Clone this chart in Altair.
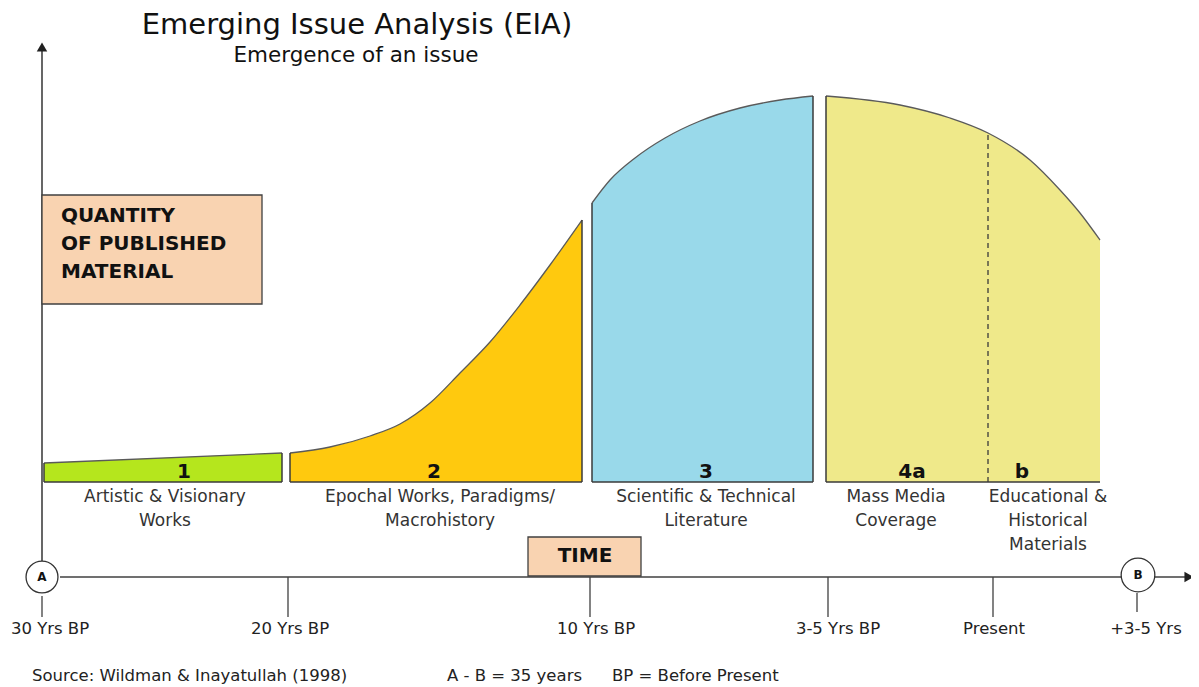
import altair as alt
import pandas as pd

# ---------------- data (x = horizontal position units, q = quantity above the baseline) ----
seg_names = ["1", "2", "3", "4"]
seg_colors = ["#B5E61D", "#FFC90E", "#99D9EA", "#EFE98A"]

seg1_x = [44, 282]
seg1_q = [19, 29]
seg2_x = [290, 330, 370, 400, 430, 460, 490, 520, 550, 582]
seg2_q = [29, 35, 46, 58, 79, 109, 140, 177, 217, 262]
seg3_x = [592, 610, 635, 665, 700, 740, 780, 813]
seg3_q = [279, 302, 324, 344, 361, 374, 382, 386]
seg4_x = [826, 900, 950, 988, 1030, 1060, 1080, 1100]
seg4_q = [386, 377, 364, 349, 322, 292, 269, 242]

seg_numbers = ["1", "2", "3", "4a", "b"]
seg_number_x = [184, 434, 706, 912, 1022]

phase_labels = ["Artistic & Visionary\nWorks",
                "Epochal Works, Paradigms/\nMacrohistory",
                "Scientific & Technical\nLiterature",
                "Mass Media\nCoverage",
                "Educational &\nHistorical\nMaterials"]
phase_label_x = [165, 440, 706, 896, 1048]

tick_labels = ["30 Yrs BP", "20 Yrs BP", "10 Yrs BP", "3-5 Yrs BP", "Present", "+3-5 Yrs"]
tick_x = [42, 288, 590, 828, 993, 1137]
tick_label_x = [50, 290, 596, 838, 994, 1146]

title_text = "Emerging Issue Analysis (EIA)"
subtitle_text = "Emergence of an issue"
y_box_text = "QUANTITY\nOF PUBLISHED\nMATERIAL"
x_box_text = "TIME"
footer_texts = ["Source: Wildman & Inayatullah (1998)", "A - B = 35 years", "BP = Before Present"]
footer_x = [32, 447, 612]

# ---------------- tables ----------------
rows = []
for name, xs, qs in zip(seg_names, [seg1_x, seg2_x, seg3_x, seg4_x], [seg1_q, seg2_q, seg3_q, seg4_q]):
    for xv, qv in zip(xs, qs):
        rows.append({"seg": name, "x": xv, "q": qv, "q0": 0})
curves = pd.DataFrame(rows)

edge_rows = []
for xs, qs, right in zip([seg1_x, seg2_x, seg3_x, seg4_x], [seg1_q, seg2_q, seg3_q, seg4_q], [True, True, True, False]):
    edge_rows.append({"x": xs[0], "x2": xs[0], "q": 0, "q2": qs[0]})
    if right:
        edge_rows.append({"x": xs[-1], "x2": xs[-1], "q": 0, "q2": qs[-1]})
    edge_rows.append({"x": xs[0], "x2": xs[-1], "q": 0, "q2": 0})
edges = pd.DataFrame(edge_rows)

AXIS_Q = -95
W, H = 1183, 679
xs = alt.Scale(domain=[8, 8 + W], nice=False, zero=False)
ys = alt.Scale(domain=[482 - 8 - H, 482 - 8], nice=False, zero=False)
X = lambda f="x": alt.X(f"{f}:Q", scale=xs, axis=None)
Y = lambda f="q": alt.Y(f"{f}:Q", scale=ys, axis=None)

FONT = "DejaVu Sans"

areas = alt.Chart(curves).mark_area(interpolate="monotone", opacity=1).encode(
    x=X(), y=Y(), y2=alt.Y2("q0:Q"),
    color=alt.Color("seg:N", scale=alt.Scale(domain=seg_names, range=seg_colors), legend=None),
    detail="seg:N",
)
tops = alt.Chart(curves).mark_line(interpolate="monotone", color="#5a5a5a", strokeWidth=1.3).encode(
    x=X(), y=Y(), detail="seg:N"
)
edge_rules = alt.Chart(edges).mark_rule(color="#3a3a3a", strokeWidth=1.5).encode(
    x=X(), x2="x2:Q", y=Y(), y2="q2:Q"
)
dash_df = pd.DataFrame({"x": [seg4_x[3]], "q": [0], "q2": [seg4_q[3]]})
dash = alt.Chart(dash_df).mark_rule(color="#3a3a3a", strokeDash=[5, 4], strokeWidth=1.3).encode(
    x=X(), y=Y(), y2="q2:Q"
)

# axes
axes_df = pd.DataFrame({"x": [42, 60], "x2": [42, 1185], "q": [-95, AXIS_Q], "q2": [437, AXIS_Q]})
axes = alt.Chart(axes_df).mark_rule(color="#404040", strokeWidth=1.6).encode(
    x=X(), x2="x2:Q", y=Y(), y2="q2:Q"
)
arrow_up = alt.Chart(pd.DataFrame({"x": [42], "q": [435]})).mark_point(
    shape="triangle-up", filled=True, color="#202020", size=110, opacity=1
).encode(x=X(), y=Y())
arrow_right = alt.Chart(pd.DataFrame({"x": [1189], "q": [AXIS_Q]})).mark_point(
    shape="triangle-right", filled=True, color="#202020", size=110, opacity=1
).encode(x=X(), y=Y())

tick_df = pd.DataFrame({"x": tick_x, "q": [-114, -95, -95, -95, -95, -111],
                        "q2": [-135, -135, -135, -135, -135, -130]})
ticks = alt.Chart(tick_df).mark_rule(color="#404040", strokeWidth=1.3).encode(
    x=X(), y=Y(), y2="q2:Q"
)
tick_text_df = pd.DataFrame({"x": tick_label_x, "q": [-147] * 6, "label": tick_labels})
tick_text = alt.Chart(tick_text_df).mark_text(font=FONT, fontSize=16.5, color="#222222", baseline="middle").encode(
    x=X(), y=Y(), text="label:N"
)

circles_df = pd.DataFrame({"x": [42, 1138], "q": [-95, -93], "label": ["A", "B"], "s": [1018, 1134]})
circles = alt.Chart(circles_df).mark_point(shape="circle", filled=True, fill="white", stroke="#333333",
                                           strokeWidth=1.3, opacity=1).encode(
    x=X(), y=Y(), size=alt.Size("s:Q", scale=None, legend=None)
)
circle_text = alt.Chart(circles_df).mark_text(font=FONT, fontSize=12, fontWeight="bold", color="#111111",
                                              baseline="middle").encode(x=X(), y=Y(), text="label:N")

boxes_df = pd.DataFrame({"x": [42, 528], "x2": [262, 641], "q": [287, -55], "q2": [178, -94]})
boxes = alt.Chart(boxes_df).mark_rect(fill="#F9D3B1", stroke="#404040", strokeWidth=1.3).encode(
    x=X(), x2="x2:Q", y=Y(), y2="q2:Q"
)
ybox_text = alt.Chart(pd.DataFrame({"x": [61], "q": [266], "t": [y_box_text]})).mark_text(
    font=FONT, fontSize=20, fontWeight="bold", color="#111111", align="left", baseline="middle",
    lineBreak="\n", lineHeight=28
).encode(x=X(), y=Y(), text="t:N")
xbox_text = alt.Chart(pd.DataFrame({"x": [585], "q": [-74], "t": [x_box_text]})).mark_text(
    font=FONT, fontSize=20, fontWeight="bold", color="#111111", baseline="middle"
).encode(x=X(), y=Y(), text="t:N")

num_df = pd.DataFrame({"x": seg_number_x, "q": [10] * 5, "t": seg_numbers})
nums = alt.Chart(num_df).mark_text(font=FONT, fontSize=20, fontWeight="bold", color="#111111",
                                   baseline="middle").encode(x=X(), y=Y(), text="t:N")

phase_df = pd.DataFrame({"x": phase_label_x, "q": [-15] * 5, "t": phase_labels})
phases = alt.Chart(phase_df).mark_text(font=FONT, fontSize=17, color="#333333", baseline="middle",
                                       lineBreak="\n", lineHeight=24).encode(x=X(), y=Y(), text="t:N")

title_df = pd.DataFrame({"x": [357, 356], "q": [448, 420], "t": [title_text, subtitle_text], "s": [29, 21.5]})
titles = alt.Chart(title_df).mark_text(font=FONT, color="#111111", baseline="alphabetic").encode(
    x=X(), y=Y(), text="t:N", size=alt.Size("s:Q", scale=None, legend=None)
)

footer_df = pd.DataFrame({"x": footer_x, "q": [-194] * 3, "t": footer_texts})
footer = alt.Chart(footer_df).mark_text(font=FONT, fontSize=16.5, color="#222222", align="left",
                                        baseline="middle").encode(x=X(), y=Y(), text="t:N")

chart = alt.layer(
    areas, tops, edge_rules, dash, axes, arrow_up, arrow_right, ticks, tick_text,
    circles, circle_text, boxes, ybox_text, xbox_text, nums, phases, titles, footer
).properties(width=W, height=H, autosize="none", padding=0, background="white"
).configure_view(stroke=None)

chart.save("out.html", embed_options={"renderer": "svg", "actions": False})
